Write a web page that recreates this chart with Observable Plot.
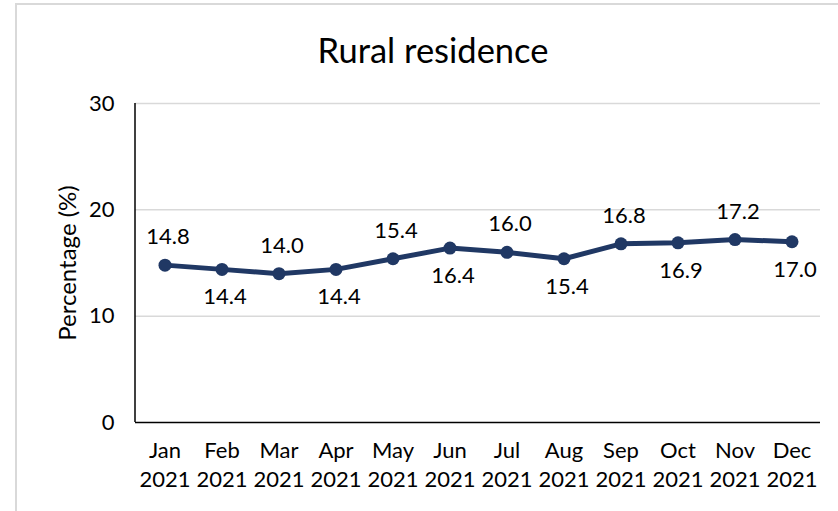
<!DOCTYPE html>
<html>
<head>
<meta charset="utf-8">
<script src="https://cdn.jsdelivr.net/npm/d3@7"></script>
<script src="https://cdn.jsdelivr.net/npm/@observablehq/plot@0.6"></script>
<style>
  html, body { margin: 0; padding: 0; background: #fff; overflow: hidden; }
  #wrap { position: relative; width: 838px; height: 511px; overflow: hidden; font-family: Lato, "Open Sans", sans-serif; }
  #frame { position: absolute; left: 15px; top: 3px; width: 840px; height: 530px; border: 2px solid #d9d9d9; box-sizing: border-box; }
  #title { position: absolute; left: 0; width: 866px; top: 26px; text-align: center; font-size: 34.5px; color: #000; line-height: 48px; }
  #chart { position: absolute; left: 0; top: 0; }
</style>
</head>
<body>
<div id="wrap">
  <div id="frame"></div>
  <div id="title">Rural residence</div>
  <div id="chart"></div>
</div>
<script>
const months = ["Jan", "Feb", "Mar", "Apr", "May", "Jun", "Jul", "Aug", "Sep", "Oct", "Nov", "Dec"];
const year = "2021";
const values = [14.8, 14.4, 14.0, 14.4, 15.4, 16.4, 16.0, 15.4, 16.8, 16.9, 17.2, 17.0];
const yTicks = [0, 10, 20, 30];
const yLabel = "Percentage (%)";

const data = months.map((m, i) => ({ month: m, value: values[i], i }));
const color = "#203864";
const fs = 22;

function leftAxisLine(index, scales, values, dimensions) {
  const { marginLeft, marginTop, height, marginBottom } = dimensions;
  const line = document.createElementNS("http://www.w3.org/2000/svg", "line");
  line.setAttribute("x1", marginLeft);
  line.setAttribute("x2", marginLeft);
  line.setAttribute("y1", marginTop);
  line.setAttribute("y2", height - marginBottom);
  line.setAttribute("stroke", "#000");
  line.setAttribute("stroke-width", 1.5);
  return line;
}

const plot = Plot.plot({
  width: 838,
  height: 511,
  marginLeft: 135,
  marginRight: 18,
  marginTop: 103,
  marginBottom: 89,
  style: { fontFamily: "Lato, 'Open Sans', sans-serif", fontSize: fs + "px", color: "#000", background: "transparent" },
  x: { type: "band", domain: months, padding: 0 },
  y: { domain: [0, 30] },
  marks: [
    Plot.ruleY(yTicks.filter(d => d > 0), { stroke: "#d9d9d9", strokeWidth: 1.5 }),
    Plot.axisY({ ticks: yTicks, tickSize: 0, tickPadding: 21, fontSize: fs, label: null }),
    Plot.axisX({ tickSize: 0, tickPadding: 15, fontSize: fs, label: null, lineHeight: 1.32,
      tickFormat: d => d + "\n" + year }),
    Plot.ruleY([0], { stroke: "#000", strokeWidth: 1.5 }),
    leftAxisLine,
    Plot.text([yLabel], { frameAnchor: "left", textAnchor: "middle", dx: -67, rotate: -90, fontSize: 24, fill: "#000" }),
    Plot.line(data, { x: "month", y: "value", stroke: color, strokeWidth: 5 }),
    Plot.dot(data, { x: "month", y: "value", r: 6.5, fill: color, stroke: null }),
    Plot.text(data.filter(d => d.i % 2 === 0), { x: "month", y: "value", text: d => d.value.toFixed(1), dy: -28, dx: 3, fontSize: fs, fill: "#000" }),
    Plot.text(data.filter(d => d.i % 2 === 1), { x: "month", y: "value", text: d => d.value.toFixed(1), dy: 28, dx: 3, fontSize: fs, fill: "#000" })
  ]
});
document.getElementById("chart").appendChild(plot);
</script>
</body>
</html>
